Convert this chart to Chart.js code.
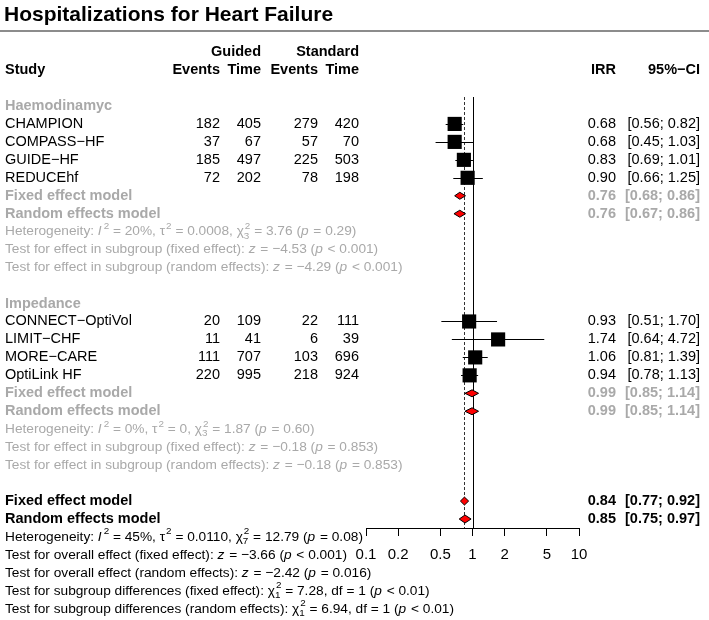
<!DOCTYPE html>
<html>
<head>
<meta charset="utf-8">
<script src="https://cdn.jsdelivr.net/npm/chart.js@4.4.1/dist/chart.umd.min.js"></script>
<style>
  html, body { margin: 0; padding: 0; background: #fff; }
  canvas { display: block; }
</style>
</head>
<body>
<canvas id="forest" width="709" height="620"></canvas>
<script>
// forest plot — hospitalizations for heart failure
const FONT = '"Liberation Sans", Arial, Helvetica, sans-serif';
const GREY = '#a9a9a9';

const groups      = ['Haemodinamyc', 'Impedance'];
const studies     = ['CHAMPION', 'COMPASS\u2212HF', 'GUIDE\u2212HF', 'REDUCEhf',
                     'CONNECT\u2212OptiVol', 'LIMIT\u2212CHF', 'MORE\u2212CARE', 'OptiLink HF'];
const studyGroup  = [0, 0, 0, 0, 1, 1, 1, 1];
const eventsGuided = [182, 37, 185, 72, 20, 11, 111, 220];
const timeGuided   = [405, 67, 497, 202, 109, 41, 707, 995];
const eventsStd    = [279, 57, 225, 78, 22, 6, 103, 218];
const timeStd      = [420, 70, 503, 198, 111, 39, 696, 924];
const irr    = [0.68, 0.68, 0.83, 0.90, 0.93, 1.74, 1.06, 0.94];
const irrLo  = [0.56, 0.45, 0.69, 0.66, 0.51, 0.64, 0.81, 0.78];
const irrHi  = [0.82, 1.03, 1.01, 1.25, 1.70, 4.72, 1.39, 1.13];

// subgroup pooled estimates [est, lo, hi]
const fixedSub  = [[0.76, 0.68, 0.86], [0.99, 0.85, 1.14]];
const randomSub = [[0.76, 0.67, 0.86], [0.99, 0.85, 1.14]];
const fixedAll  = [0.84, 0.77, 0.92];
const randomAll = [0.85, 0.75, 0.97];

const xTicks = [0.1, 0.2, 0.5, 1, 2, 5, 10];

// *x* italic, ^n superscript, ~ab stacked super/sub
const subStats = [
  ['Heterogeneity: *I*^2 = 20%, \u03c4^2 = 0.0008, \u03c7~23 = 3.76 (*p* = 0.29)',
   'Test for effect in subgroup (fixed effect): *z* = \u22124.53 (*p* < 0.001)',
   'Test for effect in subgroup (random effects): *z* = \u22124.29 (*p* < 0.001)'],
  ['Heterogeneity: *I*^2 = 0%, \u03c4^2 = 0, \u03c7~23 = 1.87 (*p* = 0.60)',
   'Test for effect in subgroup (fixed effect): *z* = \u22120.18 (*p* = 0.853)',
   'Test for effect in subgroup (random effects): *z* = \u22120.18 (*p* = 0.853)']
];
const overallStats = [
  'Heterogeneity: *I*^2 = 45%, \u03c4^2 = 0.0110, \u03c7~27 = 12.79 (*p* = 0.08)',
  'Test for overall effect (fixed effect): *z* = \u22123.66 (*p* < 0.001)',
  'Test for overall effect (random effects): *z* = \u22122.42 (*p* = 0.016)',
  'Test for subgroup differences (fixed effect): \u03c7~21 = 7.28, df = 1 (*p* < 0.01)',
  'Test for subgroup differences (random effects): \u03c7~21 = 6.94, df = 1 (*p* < 0.01)'
];

// row layout: each group = label, 4 studies, fixed, random, 3 stat lines, blank
const ROWS_PER_GROUP = 11;
const studyRow = studies.map((s, i) => studyGroup[i] * ROWS_PER_GROUP + 1 + (i % 4));
const overallRow = groups.length * ROWS_PER_GROUP;

function font(size, style) { return `${style || ''} ${size}px ${FONT}`; }

function drawRich(ctx, str, x, y, size, color) {
  const parts = str.split(/(\*[^*]+\*|\^\d|~\d\d)/).filter(Boolean);
  let cx = x;
  ctx.fillStyle = color;
  ctx.textAlign = 'left';
  const small = size * 0.72;
  for (const p of parts) {
    if (p[0] === '*' && p.length > 1 && p[p.length - 1] === '*') {
      ctx.font = font(size, 'italic');
      const t = p.slice(1, -1);
      ctx.fillText(t, cx, y);
      cx += ctx.measureText(t).width + 1;
    } else if (p[0] === '^') {
      ctx.font = font(small);
      ctx.fillText(p[1], cx + 1, y - size * 0.38);
      cx += ctx.measureText(p[1]).width + 1;
    } else if (p[0] === '~') {
      ctx.font = font(small);
      ctx.fillText(p[1], cx + 1, y - size * 0.38);
      ctx.fillText(p[2], cx, y + size * 0.32);
      cx += Math.max(ctx.measureText(p[1]).width, ctx.measureText(p[2]).width) + 1;
    } else {
      ctx.font = font(size);
      ctx.fillText(p, cx, y);
      cx += ctx.measureText(p).width;
    }
  }
}

const fmt2 = v => v.toFixed(2);
const ciText = (lo, hi) => `[${fmt2(lo)}; ${fmt2(hi)}]`;

const COL = { study: 5, evG: 220, tmG: 261, evS: 318, tmS: 359, irr: 616, ci: 700 };
const TXT = 14.5, STAT = 13.7;

const forestPlugin = {
  id: 'forest',
  beforeDatasetsDraw(chart) {
    const { ctx, chartArea } = chart;
    const xs = chart.scales.x, ys = chart.scales.y;
    ctx.save();
    // reference line at 1 and dashed fixed-effect line
    ctx.strokeStyle = '#000';
    ctx.lineWidth = 1;
    let px = Math.round(xs.getPixelForValue(1)) + 0.5;
    ctx.beginPath(); ctx.moveTo(px, chartArea.top); ctx.lineTo(px, chartArea.bottom); ctx.stroke();
    px = Math.round(xs.getPixelForValue(fixedAll[0])) + 0.5;
    ctx.setLineDash([3, 2]);
    ctx.strokeStyle = '#333';
    ctx.beginPath(); ctx.moveTo(px, chartArea.top); ctx.lineTo(px, chartArea.bottom); ctx.stroke();
    ctx.setLineDash([]);
    // confidence intervals of single studies
    ctx.strokeStyle = '#000';
    studies.forEach((s, i) => {
      const y = Math.round(ys.getPixelForValue(studyRow[i])) + 0.5;
      ctx.beginPath();
      ctx.moveTo(xs.getPixelForValue(irrLo[i]), y);
      ctx.lineTo(xs.getPixelForValue(irrHi[i]), y);
      ctx.stroke();
    });
    ctx.restore();
  },
  afterDatasetsDraw(chart) {
    const { ctx } = chart;
    const xs = chart.scales.x, ys = chart.scales.y;
    const diamond = (est, row, h) => {
      const y = ys.getPixelForValue(row);
      ctx.beginPath();
      ctx.moveTo(xs.getPixelForValue(est[1]), y);
      ctx.lineTo(xs.getPixelForValue(est[0]), y - h);
      ctx.lineTo(xs.getPixelForValue(est[2]), y);
      ctx.lineTo(xs.getPixelForValue(est[0]), y + h);
      ctx.closePath();
      ctx.fill(); ctx.stroke();
    };
    ctx.save();
    ctx.fillStyle = '#ff0000';
    ctx.strokeStyle = '#000';
    ctx.lineWidth = 1;
    groups.forEach((g, k) => {
      diamond(fixedSub[k], k * ROWS_PER_GROUP + 5, 3.5);
      diamond(randomSub[k], k * ROWS_PER_GROUP + 6, 3.5);
    });
    diamond(fixedAll, overallRow, 4);
    diamond(randomAll, overallRow + 1, 4);
    ctx.restore();
  },
  afterDraw(chart) {
    const { ctx } = chart;
    const ys = chart.scales.y;
    const Y = r => ys.getPixelForValue(r);
    const text = (t, x, y, align, size, style, color) => {
      ctx.font = font(size, style);
      ctx.textAlign = align;
      ctx.fillStyle = color;
      ctx.fillText(t, x, y);
    };
    ctx.save();
    ctx.textBaseline = 'middle';

    // title and rule
    text('Hospitalizations for Heart Failure', 4, 15, 'left', 21, 'bold', '#000');
    ctx.fillStyle = '#8c8c8c';
    ctx.fillRect(0, 30, 709, 2);

    // column headers
    text('Guided', COL.tmG, Y(-3), 'right', TXT, 'bold', '#000');
    text('Standard', COL.tmS, Y(-3), 'right', TXT, 'bold', '#000');
    text('Study', COL.study, Y(-2), 'left', TXT, 'bold', '#000');
    text('Events', COL.evG, Y(-2), 'right', TXT, 'bold', '#000');
    text('Time', COL.tmG, Y(-2), 'right', TXT, 'bold', '#000');
    text('Events', COL.evS, Y(-2), 'right', TXT, 'bold', '#000');
    text('Time', COL.tmS, Y(-2), 'right', TXT, 'bold', '#000');
    text('IRR', COL.irr, Y(-2), 'right', TXT, 'bold', '#000');
    text('95%\u2212CI', COL.ci, Y(-2), 'right', TXT, 'bold', '#000');

    // studies
    studies.forEach((s, i) => {
      const y = Y(studyRow[i]);
      text(s, COL.study, y, 'left', TXT, '', '#000');
      text(String(eventsGuided[i]), COL.evG, y, 'right', TXT, '', '#000');
      text(String(timeGuided[i]), COL.tmG, y, 'right', TXT, '', '#000');
      text(String(eventsStd[i]), COL.evS, y, 'right', TXT, '', '#000');
      text(String(timeStd[i]), COL.tmS, y, 'right', TXT, '', '#000');
      text(fmt2(irr[i]), COL.irr, y, 'right', TXT, '', '#000');
      text(ciText(irrLo[i], irrHi[i]), COL.ci, y, 'right', TXT, '', '#000');
    });

    // subgroups
    groups.forEach((g, k) => {
      const base = k * ROWS_PER_GROUP;
      text(g, COL.study, Y(base), 'left', TXT, 'bold', GREY);
      [['Fixed effect model', fixedSub[k]], ['Random effects model', randomSub[k]]].forEach(([lab, e], j) => {
        const y = Y(base + 5 + j);
        text(lab, COL.study, y, 'left', TXT, 'bold', GREY);
        text(fmt2(e[0]), COL.irr, y, 'right', TXT, 'bold', GREY);
        text(ciText(e[1], e[2]), COL.ci, y, 'right', TXT, 'bold', GREY);
      });
      subStats[k].forEach((s, j) => drawRich(ctx, s, COL.study, Y(base + 7 + j), STAT, GREY));
    });

    // overall
    [['Fixed effect model', fixedAll], ['Random effects model', randomAll]].forEach(([lab, e], j) => {
      const y = Y(overallRow + j);
      text(lab, COL.study, y, 'left', TXT, 'bold', '#000');
      text(fmt2(e[0]), COL.irr, y, 'right', TXT, 'bold', '#000');
      text(ciText(e[1], e[2]), COL.ci, y, 'right', TXT, 'bold', '#000');
    });
    overallStats.forEach((s, j) => drawRich(ctx, s, COL.study, Y(overallRow + 2 + j), STAT, '#000'));
    ctx.restore();
  }
};

new Chart(document.getElementById('forest'), {
  type: 'scatter',
  data: {
    datasets: [{
      data: studies.map((s, i) => ({ x: irr[i], y: studyRow[i] })),
      pointStyle: 'rect',
      pointRadius: 10,
      pointHoverRadius: 10,
      backgroundColor: '#000',
      borderColor: '#000',
      borderWidth: 0
    }]
  },
  options: {
    responsive: false,
    animation: false,
    devicePixelRatio: 1,
    layout: { padding: { left: 366, right: 130, top: 97, bottom: 42 } },
    plugins: { legend: { display: false }, tooltip: { enabled: false } },
    events: [],
    scales: {
      x: {
        type: 'logarithmic',
        min: 0.1,
        max: 10,
        afterBuildTicks: s => { s.ticks = xTicks.map(v => ({ value: v })); },
        afterFit: s => { s.height = 50; },
        ticks: {
          autoSkip: false,
          maxRotation: 0,
          padding: 10,
          color: '#000',
          font: { family: FONT, size: 15 },
          callback: v => String(v)
        },
        grid: { drawOnChartArea: false, drawTicks: true, tickLength: 8, color: '#000' },
        border: { display: true, color: '#000', width: 1 }
      },
      y: { display: false, min: -0.5, max: 23.5, reverse: true }
    }
  },
  plugins: [forestPlugin]
});
</script>
</body>
</html>
